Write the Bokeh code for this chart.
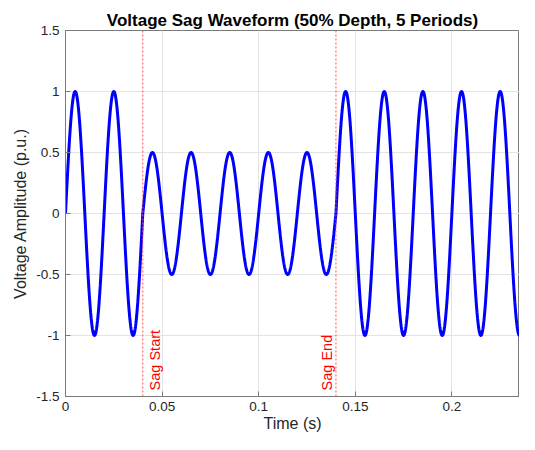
import numpy as np
from bokeh.plotting import figure
from bokeh.models import Range1d, FixedTicker, Span
from bokeh.core.properties import value
from bokeh.embed import file_html
from bokeh.resources import INLINE

# ---- data ----
frequency_hz = 50.0          # peaks at 0.005, 0.025 s -> 20 ms period
nominal_amplitude = 1.0
sag_amplitude = 0.5          # 50% depth
sag_start = 0.04
sag_end = 0.14               # 5 periods later
t_end = 0.235
sample_rate = 10000

x_ticks = [0, 0.05, 0.1, 0.15, 0.2]
x_tick_labels = ["0", "0.05", "0.1", "0.15", "0.2"]
y_ticks = [-1.5, -1, -0.5, 0, 0.5, 1, 1.5]
y_tick_labels = ["-1.5", "-1", "-0.5", "0", "0.5", "1", "1.5"]
sag_marks = [sag_start, sag_end]
sag_labels = ["Sag Start", "Sag End"]
label_y = -1.45

# waveform defined by the parameters above
t = np.arange(0, int(round(t_end * sample_rate)) + 1) / sample_rate
amp = np.where((t >= sag_start) & (t < sag_end), sag_amplitude, nominal_amplitude)
v = amp * np.sin(2 * np.pi * frequency_hz * t)

FONT = "Liberation Sans"
TXT = "#262626"
AX = "#7a7a7a"

p = figure(width=519, height=434, output_backend="svg", toolbar_location=None,
           x_range=Range1d(0, t_end), y_range=Range1d(-1.5, 1.5),
           min_border_left=65, min_border_right=0, min_border_top=30, min_border_bottom=0,
           title="Voltage Sag Waveform (50% Depth, 5 Periods)")
p.title.align = "center"
p.title.text_font = FONT
p.title.text_font_size = "17px"
p.title.text_font_style = "bold"
p.title.text_color = "#000000"
p.title.standoff = 2
p.title.offset = 0

p.outline_line_color = AX
p.outline_line_width = 1
p.background_fill_color = "white"
p.border_fill_color = "white"

for ax in (p.xaxis[0], p.yaxis[0]):
    ax.axis_line_color = AX
    ax.major_tick_line_color = AX
    ax.major_tick_in = 5
    ax.major_tick_out = 0
    ax.minor_tick_line_color = None
    ax.major_label_text_font = FONT
    ax.major_label_text_font_size = "13.5px"
    ax.major_label_text_color = TXT
    ax.axis_label_text_font = FONT
    ax.axis_label_text_font_size = "16px"
    ax.axis_label_text_font_style = "normal"
    ax.axis_label_text_color = TXT

p.xaxis.ticker = FixedTicker(ticks=x_ticks)
p.xaxis.major_label_overrides = dict(zip(x_ticks, x_tick_labels))
p.yaxis.ticker = FixedTicker(ticks=y_ticks)
p.yaxis.major_label_overrides = dict(zip(y_ticks, y_tick_labels))
p.xaxis.axis_label = "Time (s)"
p.yaxis.axis_label = "Voltage Amplitude (p.u.)"
p.xaxis.major_label_standoff = 5
p.xaxis.axis_label_standoff = 1
p.yaxis.major_label_standoff = 6
p.yaxis.axis_label_standoff = 4

p.xgrid.ticker = FixedTicker(ticks=x_ticks)
p.ygrid.ticker = FixedTicker(ticks=y_ticks)
p.grid.grid_line_color = "#e3e3e3"
p.grid.grid_line_width = 1

for xm in sag_marks:
    p.add_layout(Span(location=xm, dimension="height", line_color="#ff5050",
                      line_width=1, line_dash="2 2", line_alpha=1.0))

p.line(t, v, line_color="#0000ff", line_width=3)

p.text(x=[sag_marks[0]], y=[label_y], text=[sag_labels[0]], angle=np.pi / 2,
       text_align="left", text_baseline="top", x_offset=4,
       text_font=value(FONT), text_font_size="14.5px", text_color="#ff0000")
p.text(x=[sag_marks[1]], y=[label_y], text=[sag_labels[1]], angle=np.pi / 2,
       text_align="left", text_baseline="bottom", x_offset=-1,
       text_font=value(FONT), text_font_size="14.5px", text_color="#ff0000")

open("out.html", "w").write(file_html(p, INLINE))
